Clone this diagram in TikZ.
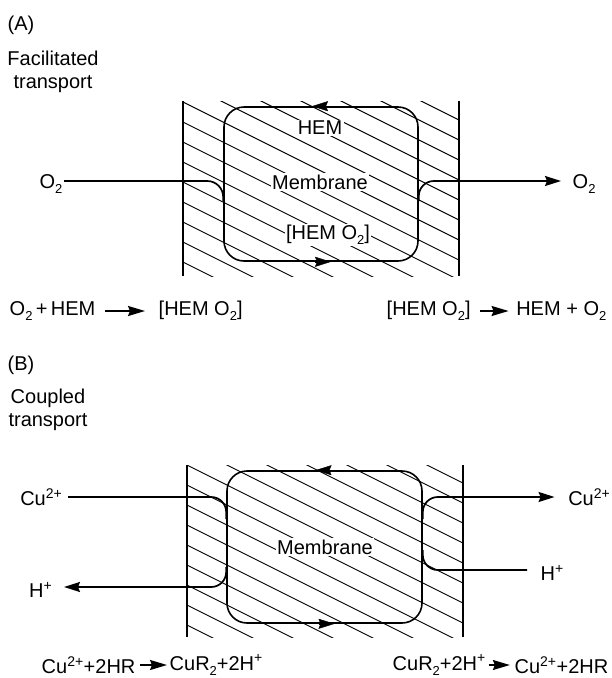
\documentclass[tikz,border=0pt]{standalone}
\usepackage{fontspec}
\setmainfont{Liberation Sans}
\usetikzlibrary{arrows.meta}
\newcommand{\lowsub}[1]{\raisebox{-0.45ex}{\fontsize{13}{13}\selectfont #1}}
\begin{document}
\begin{tikzpicture}[x=1pt,y=-1pt,
  every node/.style={font=\fontsize{20}{23}\selectfont, inner sep=1.5pt},
  wall/.style={line width=2.6pt},
  hatchline/.style={line width=0.9pt},
  loopbox/.style={draw, line width=1.6pt, rounded corners=20pt, rectangle},
  flow/.style={line width=1.7pt},
  tipA/.style={-{Stealth[length=16pt,width=10pt,inset=2pt]}},
  eqarrow/.style={line width=1.7pt,-{Stealth[length=17pt,width=10pt,inset=2pt]}},
  lbl/.style={fill=white},
]
\useasboundingbox[fill=white] (0,0) rectangle (612,678);

%%%%%%%%%%%%%%%% Panel A
\node[anchor=west] (labA) at (6,25) {(A)};
\node[align=center] (titA) at (53,72) {Facilitated\\transport};

\begin{scope}
  \clip (183,101) rectangle (459,276);
  \foreach \k in {-8,...,9} \draw[hatchline] (183,{102+20*\k}) -- ++(320,160);
\end{scope}
\draw[wall] (183,101) -- (183,276);
\draw[wall] (459,101) -- (459,276);

\node[loopbox, minimum width=194pt, minimum height=154pt] (loopA) at (321,184) {};
\draw[tipA] ([xshift=11pt]loopA.north) -- ([xshift=-9pt]loopA.north);
\draw[tipA] ([xshift=-6pt]loopA.south) -- ([xshift=10pt]loopA.south);

\node[lbl] (hem) at (320,128) {HEM};
\node[lbl] (memA) at (320,182) {Membrane};
\node[lbl] (hemo2) at (328,235) {[HEM O\lowsub{2}]};

\node[anchor=east] (o2in) at (64,184) {O\lowsub{2}};
\node[anchor=west] (o2out) at (571,184) {O\lowsub{2}};
\coordinate (o2inA) at (loopA.west |- 0,181);
\coordinate (o2outA) at (loopA.east |- 0,181);
\draw[flow, rounded corners=16pt] (o2in.east |- o2inA) -- (o2inA) -- ([yshift=-20pt]o2inA);
\draw[flow, rounded corners=15pt, tipA] ([yshift=-20pt]o2outA) -- (o2outA) -- ([xshift=-10pt]o2out.west |- o2outA);

\node[anchor=west] (eqA1) at (8,311) {O\lowsub{2}\,+\,HEM};
\node[anchor=west] (eqA2) at (157,311) {[HEM O\lowsub{2}]};
\draw[eqarrow] ([xshift=8pt]eqA1.east) -- ([xshift=-12pt]eqA2.west);
\node[anchor=west] (eqA3) at (385,311) {[HEM O\lowsub{2}]};
\node[anchor=east] (eqA4) at (608,311) {HEM + O\lowsub{2}};
\draw[eqarrow] ([xshift=8pt]eqA3.east) -- ([xshift=-6pt]eqA4.west);

%%%%%%%%%%%%%%%% Panel B
\node[anchor=west] (labB) at (6,365) {(B)};
\node[align=center] (titB) at (48,410) {Coupled\\transport};

\begin{scope}
  \clip (187,465) rectangle (463,637);
  \foreach \k in {-8,...,9} \draw[hatchline] (187,{465+20*\k}) -- ++(320,160);
\end{scope}
\draw[wall] (187,465) -- (187,637);
\draw[wall] (463,465) -- (463,637);

\node[loopbox, minimum width=195pt, minimum height=152pt] (loopB) at (324.5,547) {};
\draw[tipA] ([xshift=11pt]loopB.north) -- ([xshift=-9pt]loopB.north);
\draw[tipA] ([xshift=-6pt]loopB.south) -- ([xshift=10pt]loopB.south);

\node[lbl] (memB) at (325,547) {Membrane};

\node[anchor=east] (cuin) at (64,497) {Cu\textsuperscript{2+}};
\node[anchor=east] (hout) at (54,590) {H\textsuperscript{+}};
\node[anchor=east] (cuout) at (612,497) {Cu\textsuperscript{2+}};
\node[anchor=west] (hin) at (539,573) {H\textsuperscript{+}};

\coordinate (cuinB) at (loopB.west |- 0,497);
\coordinate (houtB) at (loopB.west |- 0,587);
\coordinate (cuoutB) at (loopB.east |- 0,497);
\coordinate (hinB) at (loopB.east |- 0,570);

\draw[flow, rounded corners=15pt] ([xshift=4pt]cuin.east |- cuinB) -- (cuinB) -- ([yshift=-22pt]cuinB);
\draw[flow, rounded corners=15pt, tipA] ([yshift=20pt]houtB) -- (houtB) -- ([xshift=10pt]hout.east |- houtB);
\draw[flow, rounded corners=15pt, tipA] ([yshift=-22pt]cuoutB) -- (cuoutB) -- ([xshift=-12pt]cuout.west |- cuoutB);
\draw[flow, rounded corners=15pt] ([xshift=-12pt]hin.west |- hinB) -- (hinB) -- ([yshift=20pt]hinB);

\node[anchor=west] (eqB1) at (40,665) {Cu\textsuperscript{2+}+2HR};
\node[anchor=west] (eqB2) at (168,665) {CuR\lowsub{2}+2H\textsuperscript{+}};
\draw[eqarrow] ([xshift=3pt]eqB1.east) -- ([xshift=-1pt]eqB2.west);
\node[anchor=west] (eqB3) at (391,665) {CuR\lowsub{2}+2H\textsuperscript{+}};
\node[anchor=east] (eqB4) at (610,665) {Cu\textsuperscript{2+}+2HR};
\draw[eqarrow] ([xshift=1pt]eqB3.east) -- ([xshift=-3pt]eqB4.west);
\end{tikzpicture}
\end{document}
